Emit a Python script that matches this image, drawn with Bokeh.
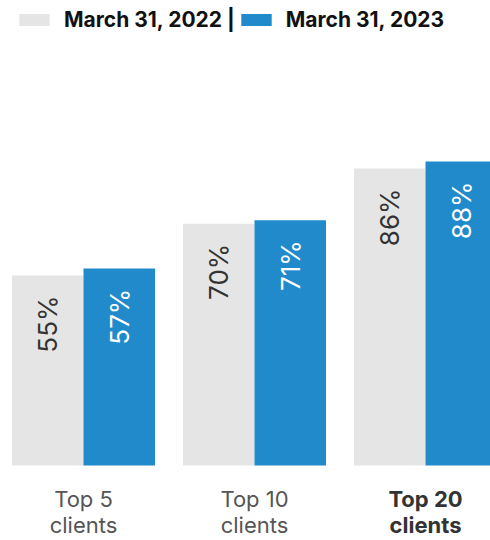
import numpy as np
from bokeh.plotting import figure
from bokeh.models import ColumnDataSource, Legend, LegendItem, Range1d
from bokeh.core.properties import value
from bokeh.embed import file_html
from bokeh.resources import INLINE

# ---- data ----
categories = ["Top 5\nclients", "Top 10\nclients", "Top 20\nclients"]
series_names = ["March 31, 2022 |", "March 31, 2023"]
values_2022 = [55, 70, 86]
values_2023 = [57, 71, 88]

# ---- styles ----
GRAY = "#E5E5E5"
BLUE = "#208ACB"
FONT = "Inter"
W, H = 490, 540

idx = np.arange(len(categories))
bw = 0.418

src = ColumnDataSource(dict(
    x22=idx - bw / 2,
    x23=idx + bw / 2,
    v22=values_2022,
    v23=values_2023,
    l22=[f"{v}%" for v in values_2022],
    l23=[f"{v}%" for v in values_2023],
))

p = figure(width=W, height=H, output_backend="svg", toolbar_location=None,
           x_range=Range1d(-0.4854, 2.380), y_range=Range1d(-21.7, 134.6),
           x_axis_location=None, y_axis_location=None, min_border=0,
           outline_line_color=None)
p.grid.visible = False
p.background_fill_color = "white"
p.border_fill_color = "white"

r22 = p.vbar(x="x22", top="v22", bottom=0, width=bw, fill_color=GRAY,
             line_color=None, source=src)
r23 = p.vbar(x="x23", top="v23", bottom=0, width=bw, fill_color=BLUE,
             line_color=None, source=src)

p.text(x="x22", y="v22", text="l22", angle=np.pi / 2, text_align="right",
       text_baseline="middle", y_offset=20, text_font=value(FONT),
       text_font_size="26px", text_color="#333333", source=src)
p.text(x="x23", y="v23", text="l23", angle=np.pi / 2, text_align="right",
       text_baseline="middle", y_offset=20, text_font=value(FONT),
       text_font_size="26px", text_color="#FFFFFF", source=src)

cat_src = ColumnDataSource(dict(
    x=idx, y=[0] * len(categories), text=categories,
    style=["normal", "normal", "bold"],
    color=["#555555", "#555555", "#333333"],
))
p.text(x="x", y="y", text="text", y_offset=20, text_align="center",
       text_baseline="top", text_font=value(FONT), text_font_size="22px",
       text_font_style="style", text_color="color", text_line_height=1.0,
       source=cat_src)

legend = Legend(items=[LegendItem(label=series_names[0], renderers=[r22]),
                       LegendItem(label=series_names[1], renderers=[r23])],
                orientation="horizontal", location=(15, H - 7.5 - 24),
                glyph_width=38, glyph_height=15, label_standoff=11, spacing=2,
                padding=0, margin=0, label_text_font=FONT,
                label_text_font_style="bold", label_text_font_size="21px",
                label_text_color="#111111", background_fill_alpha=0,
                border_line_color=None)
p.add_layout(legend)

open("out.html", "w").write(file_html(p, INLINE))
